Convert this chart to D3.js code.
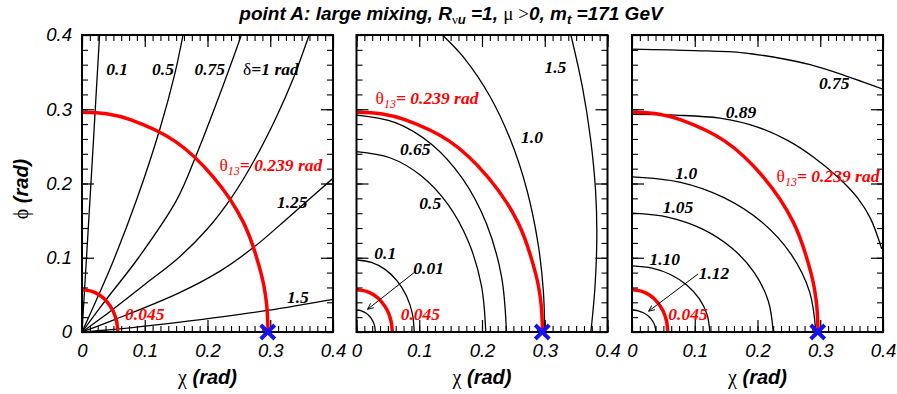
<!DOCTYPE html>
<html>
<head>
<meta charset="utf-8">
<script src="https://cdn.jsdelivr.net/npm/d3@7"></script>
<style>
  body { margin: 0; background: #fff; }
  svg { display: block; }
</style>
</head>
<body>
<svg width="897" height="394"></svg>
<script>
// ---- data: [chi, phi] in rad ----
const majorTicks = [0, 0.1, 0.2, 0.3, 0.4];
const tickLabels = ["0", "0.1", "0.2", "0.3", "0.4"];
const minorX = d3.range(0, 0.4001, 0.0125);
const minorY = d3.range(0, 0.4001, 0.02);

// theta13 contours, same in every panel
const theta239 = [[0,0.296],[0.039,0.294],[0.077,0.286],[0.148,0.257],[0.209,0.209],[0.257,0.148],[0.286,0.077],[0.294,0.039],[0.2965,0]];
const theta045 = [[0,0.057],[0.0148,0.055],[0.0285,0.0494],[0.0403,0.0403],[0.0494,0.0285],[0.055,0.0148],[0.057,0]];
const markPoint = [0.296, 0];

// panel 1: delta contours
const p1Delta01  = [[0,0],[0.0127,0.178],[0.028,0.4]];
const p1Delta05  = [[0,0],[0.025,0.047],[0.05,0.096],[0.087,0.178],[0.124,0.273],[0.148,0.348],[0.161,0.4]];
const p1Delta075 = [[0,0],[0.036,0.041],[0.09,0.1],[0.151,0.178],[0.182,0.238],[0.224,0.33],[0.254,0.4]];
const p1Delta1   = [[0,0],[0.047,0.029],[0.1,0.064],[0.154,0.1],[0.2,0.139],[0.239,0.182],[0.275,0.232],[0.31,0.29],[0.336,0.34],[0.362,0.4]];
const p1Delta125 = [[0,0],[0.053,0.017],[0.153,0.052],[0.22,0.082],[0.275,0.115],[0.33,0.155],[0.4,0.207]];
const p1Delta15  = [[0,0],[0.08,0.006],[0.153,0.013],[0.295,0.029],[0.4,0.044]];

// panel 2
const p2c001 = [[0,0.0296],[0.0078,0.0286],[0.015,0.0256],[0.0212,0.0209],[0.026,0.0148],[0.029,0.0077],[0.030,0]];
const p2c01  = [[0,0.097],[0.0238,0.0937],[0.046,0.084],[0.065,0.0686],[0.0797,0.0485],[0.0889,0.0251],[0.092,0]];
const p2c05  = [[0,0.243],[0.0533,0.2347],[0.103,0.2104],[0.1457,0.1718],[0.1784,0.1215],[0.199,0.0629],[0.206,0]];
const p2c065 = [[0,0.292],[0.0619,0.282],[0.1195,0.2529],[0.169,0.2065],[0.207,0.146],[0.2309,0.0756],[0.239,0]];
const p2c10  = [[0.137,0.4],[0.172,0.3686],[0.2121,0.3182],[0.2457,0.2581],[0.2719,0.1902],[0.2898,0.1165],[0.2978,0.0548],[0.3,0]];
const p2c15  = [[0.3417,0.4],[0.36,0.33],[0.373,0.26],[0.381,0.19],[0.383,0.13],[0.38,0.06],[0.3735,0]];

// panel 3
const p3c075 = [[0,0.381],[0.1,0.379],[0.177,0.376],[0.24,0.368],[0.284,0.36],[0.337,0.346],[0.4,0.327]];
const p3c089 = [[0,0.293],[0.07,0.292],[0.14,0.288],[0.2,0.276],[0.25,0.257],[0.29,0.235],[0.33,0.207],[0.36,0.18],[0.38,0.153],[0.398,0.112]];
const p3c100 = [[0,0.209],[0.0758,0.2019],[0.1465,0.181],[0.2072,0.1478],[0.2537,0.1045],[0.283,0.0541],[0.293,0]];
const p3c105 = [[0,0.16],[0.0582,0.1545],[0.1125,0.1386],[0.1591,0.1131],[0.1949,0.08],[0.2173,0.0414],[0.225,0]];
const p3c110 = [[0,0.089],[0.0321,0.086],[0.062,0.0771],[0.0877,0.0629],[0.1074,0.0445],[0.1198,0.023],[0.124,0]];
const p3c112 = [[0,0.0296],[0.0098,0.0286],[0.019,0.0256],[0.0269,0.0209],[0.0329,0.0148],[0.0367,0.0077],[0.038,0]];

const p1Labels = ["0.1", "0.5", "0.75", "δ=1 rad", "θ", "1.25", "1.5", "0.045"];
const p2Labels = ["1.5", "θ", "1.0", "0.65", "0.5", "0.1", "0.01", "0.045"];
const p3Labels = ["0.75", "0.89", "θ", "1.0", "1.05", "1.10", "1.12", "0.045"];

// ---- layout ----
const panelW = 251, panelH = 297, panelTop = 35;
const panels = [
  { left: 82, curves: [p1Delta01, p1Delta05, p1Delta075, p1Delta1, p1Delta125, p1Delta15], labels: p1Labels,
    at: [[0.056,0.355],[0.129,0.355],[0.2035,0.355],[0.301,0.355],[0.301,0.225],[0.335,0.175],[0.344,0.047],[0.1,0.025]],
    arrow: null },
  { left: 356.5, curves: [p2c001, p2c01, p2c05, p2c065, p2c10, p2c15], labels: p2Labels,
    at: [[0.317,0.357],[0.1124,0.3147],[0.2797,0.263],[0.0937,0.2465],[0.1176,0.174],[0.0459,0.106],[0.115,0.0858],[0.1017,0.025]],
    arrow: [[0.0937,0.0812],[0.0175,0.0305]] },
  { left: 632, curves: [p3c075, p3c089, p3c100, p3c105, p3c110, p3c112], labels: p3Labels,
    at: [[0.3224,0.3358],[0.1737,0.2967],[0.3124,0.21],[0.0865,0.2145],[0.0733,0.168],[0.0521,0.0979],[0.1307,0.0799],[0.0892,0.025]],
    arrow: [[0.1052,0.0781],[0.0265,0.028]] }
];

const svg = d3.select("svg");
const x = d3.scaleLinear().domain([0, 0.4]).range([0, panelW]);
const y = d3.scaleLinear().domain([0, 0.4]).range([panelH, 0]);
const line = d3.line().x(d => x(d[0])).y(d => y(d[1])).curve(d3.curveCatmullRom.alpha(0.5));

const sans = "'Liberation Sans', Arial, sans-serif";
const serif = "'Liberation Serif', 'Times New Roman', serif";

const defs = svg.append("defs");
defs.append("clipPath").attr("id", "clip")
  .append("rect").attr("width", panelW).attr("height", panelH);
defs.append("marker").attr("id", "arr")
  .attr("viewBox", "0 -5 10 10").attr("refX", 9).attr("refY", 0)
  .attr("markerWidth", 7).attr("markerHeight", 7).attr("orient", "auto")
  .append("path").attr("d", "M0,-4L9,0L0,4").attr("fill", "none").attr("stroke", "#000").attr("stroke-width", 1.2);

// title
const title = svg.append("text").attr("x", 451).attr("y", 20).attr("text-anchor", "middle")
  .style("font-family", sans).style("font-size", "19px").style("font-weight", "bold").style("font-style", "italic");
title.append("tspan").text("point A: large mixing, R");
title.append("tspan").attr("dy", 4).style("font-size", "13px").style("font-family", serif)
  .style("font-weight", "normal").style("font-style", "normal").text("ν");
title.append("tspan").style("font-size", "13px").text("u");
title.append("tspan").attr("dy", -4).text(" =1, ");
title.append("tspan").style("font-family", serif).style("font-weight", "normal").style("font-style", "normal").text("μ >");
title.append("tspan").text("0, m");
title.append("tspan").attr("dy", 4).style("font-size", "13px").text("t");
title.append("tspan").attr("dy", -4).text(" =171 GeV");

function drawLabel(g, txt, pos, color) {
  const t = g.append("text").attr("x", x(pos[0])).attr("y", y(pos[1])).attr("dy", "0.35em")
    .attr("text-anchor", "middle").attr("fill", color)
    .style("font-family", serif).style("font-size", "17.5px").style("font-weight", "bold").style("font-style", "italic");
  if (txt === "θ") {
    t.append("tspan").style("font-weight", "normal").style("font-style", "normal").text("θ");
    t.append("tspan").attr("dy", 4).style("font-size", "12px").style("font-weight", "normal").text("13");
    t.append("tspan").attr("dy", -4).text("= 0.239 rad");
  } else if (txt[0] === "δ") {
    t.append("tspan").style("font-weight", "normal").style("font-style", "normal").text("δ");
    t.append("tspan").text(txt.slice(1));
  } else {
    t.text(txt);
  }
}

panels.forEach((p, i) => {
  const g = svg.append("g").attr("transform", `translate(${p.left},${panelTop})`);
  const plot = g.append("g").attr("clip-path", "url(#clip)");

  plot.selectAll("path.c").data(p.curves).enter().append("path").attr("class", "c")
    .attr("d", line).attr("fill", "none").attr("stroke", "#000").attr("stroke-width", 1.3);
  plot.selectAll("path.r").data([theta239, theta045]).enter().append("path").attr("class", "r")
    .attr("d", line).attr("fill", "none").attr("stroke", "#ff0000").attr("stroke-width", 3.5);

  if (p.arrow) {
    g.append("line")
      .attr("x1", x(p.arrow[0][0])).attr("y1", y(p.arrow[0][1]))
      .attr("x2", x(p.arrow[1][0])).attr("y2", y(p.arrow[1][1]))
      .attr("stroke", "#000").attr("stroke-width", 1).attr("marker-end", "url(#arr)");
  }

  p.labels.forEach((t, k) => {
    const red = (t === "θ" || t === "0.045");
    drawLabel(g, t, p.at[k], red ? "#ff0000" : "#000");
  });

  // ticks on all four sides, pointing inward
  const axes = [
    [d3.axisBottom(x), `translate(0,${panelH})`, minorX],
    [d3.axisTop(x), null, minorX],
    [d3.axisLeft(y), null, minorY],
    [d3.axisRight(y), `translate(${panelW},0)`, minorY]
  ];
  axes.forEach(([ax, tr, minor], j) => {
    const labelled = (j === 0) || (j === 2 && i === 0);
    const gMaj = g.append("g").attr("transform", tr)
      .call(ax.tickValues(majorTicks).tickSizeInner(-12).tickSizeOuter(0)
        .tickPadding(j === 0 ? 12 : 10).tickFormat((d, n) => labelled ? tickLabels[n] : ""));
    gMaj.select(".domain").remove();
    gMaj.selectAll("line").attr("stroke", "#000").attr("stroke-width", 1.2);
    gMaj.selectAll("text").attr("fill", "#000")
      .style("font-family", sans).style("font-size", "18.5px").style("font-style", "italic");
    const gMin = g.append("g").attr("transform", tr)
      .call(ax.tickValues(minor).tickSizeInner(-6).tickSizeOuter(0).tickFormat(""));
    gMin.select(".domain").remove();
    gMin.selectAll("line").attr("stroke", "#000").attr("stroke-width", 1.1);
  });

  g.append("rect").attr("width", panelW).attr("height", panelH)
    .attr("fill", "none").attr("stroke", "#000").attr("stroke-width", 2);

  // blue cross
  const cx = x(markPoint[0]), cy = y(markPoint[1]), s = 7;
  g.append("path").attr("d", `M${cx - s},${cy - s}L${cx + s},${cy + s}M${cx - s},${cy + s}L${cx + s},${cy - s}`)
    .attr("stroke", "#1414f0").attr("stroke-width", 4).attr("fill", "none");

  // x title
  const xt = g.append("text").attr("x", panelW / 2).attr("y", 384 - panelTop).attr("text-anchor", "middle")
    .style("font-size", "20px");
  xt.append("tspan").style("font-family", serif).text("χ");
  xt.append("tspan").style("font-family", sans).style("font-weight", "bold").style("font-style", "italic").text(" (rad)");
});

// y title
const yt = svg.append("text").attr("transform", "translate(28,189) rotate(-90)").attr("text-anchor", "middle")
  .style("font-size", "20px");
yt.append("tspan").style("font-family", serif).text("ϕ");
yt.append("tspan").style("font-family", sans).style("font-weight", "bold").style("font-style", "italic").text(" (rad)");
</script>
</body>
</html>
